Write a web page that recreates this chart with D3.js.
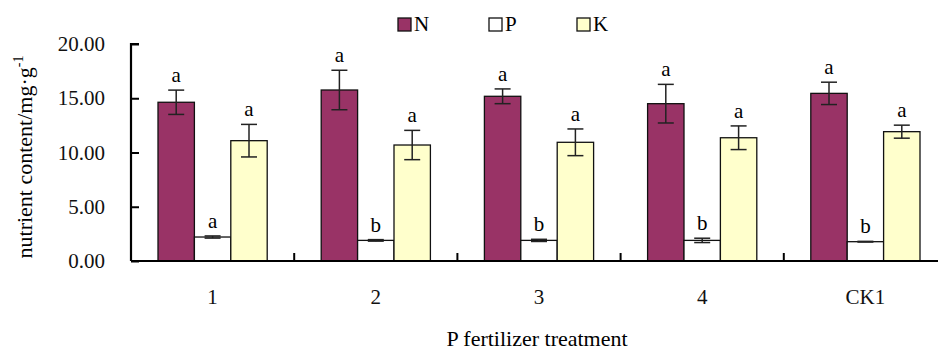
<!DOCTYPE html>
<html>
<head>
<meta charset="utf-8">
<script src="https://cdn.jsdelivr.net/npm/d3@7"></script>
<style>
  body { margin: 0; background: #fff; }
  svg { display: block; font-family: "Liberation Serif", "Times New Roman", serif; }
</style>
</head>
<body>
<svg id="chart" width="938" height="350"></svg>
<script>
const treatments = ["1", "2", "3", "4", "CK1"];
const nutrients = ["N", "P", "K"];
const nValues = [14.63, 15.76, 15.18, 14.50, 15.45];
const pValues = [2.21, 1.90, 1.90, 1.90, 1.78];
const kValues = [11.09, 10.69, 10.94, 11.36, 11.92];
const nErr = [1.12, 1.82, 0.68, 1.78, 1.03];
const pErr = [0.10, 0.07, 0.10, 0.20, 0.03];
const kErr = [1.50, 1.35, 1.23, 1.09, 0.60];
const nSig = ["a", "a", "a", "a", "a"];
const pSig = ["a", "b", "b", "b", "b"];
const kSig = ["a", "a", "a", "a", "a"];
const yTicks = [0, 5, 10, 15, 20];

const colors = { N: "#993366", P: "#ffffff", K: "#ffffcc" };

const series = {
    N: { values: nValues, err: nErr, sig: nSig },
    P: { values: pValues, err: pErr, sig: pSig },
    K: { values: kValues, err: kErr, sig: kSig }
};

const svg = d3.select("#chart");
const margin = { top: 44, left: 131, bottom: 89 };
const plotW = 816;
const plotH = 350 - margin.top - margin.bottom;

const x = d3.scaleBand()
    .domain(treatments)
    .range([margin.left, margin.left + plotW])
    .paddingInner(0).paddingOuter(0);

const xSub = d3.scaleBand()
    .domain(nutrients)
    .range([27, x.bandwidth() - 27]);

const y = d3.scaleLinear()
    .domain([0, 20])
    .range([margin.top + plotH, margin.top]);

const rows = [];
treatments.forEach((t, i) => {
    nutrients.forEach(k => {
        rows.push({ t, k, v: series[k].values[i], e: series[k].err[i], s: series[k].sig[i] });
    });
});

// bars
svg.append("g").selectAll("rect")
    .data(rows)
    .enter().append("rect")
    .attr("x", d => x(d.t) + xSub(d.k))
    .attr("y", d => y(d.v))
    .attr("width", xSub.bandwidth())
    .attr("height", d => y(0) - y(d.v))
    .attr("fill", d => colors[d.k])
    .attr("stroke", "#111")
    .attr("stroke-width", 1.3);

// error bars
const eb = svg.append("g").attr("stroke", "#222").attr("stroke-width", 1.5);
rows.forEach(d => {
    const cx = x(d.t) + xSub(d.k) + xSub.bandwidth() / 2;
    eb.append("line").attr("x1", cx).attr("x2", cx).attr("y1", y(d.v + d.e)).attr("y2", y(d.v - d.e));
    [d.v + d.e, d.v - d.e].forEach(val => {
        eb.append("line").attr("x1", cx - 8).attr("x2", cx + 8).attr("y1", y(val)).attr("y2", y(val));
    });
});

// significance letters
svg.append("g").selectAll("text")
    .data(rows)
    .enter().append("text")
    .attr("x", d => x(d.t) + xSub(d.k) + xSub.bandwidth() / 2)
    .attr("y", d => y(d.v + d.e) - 8)
    .attr("text-anchor", "middle")
    .attr("font-size", 21)
    .text(d => d.s);

// y axis
const yAxis = svg.append("g")
    .attr("transform", `translate(${margin.left},0)`)
    .call(d3.axisRight(y).tickValues(yTicks).tickSize(8).tickFormat(d3.format(".2f")))
    .attr("font-family", null).attr("font-size", null);
yAxis.select(".domain").attr("stroke-width", 2.2).attr("d", `M0,${y(0)}V${y(20)}h8`);
yAxis.selectAll(".tick line").attr("stroke-width", 2);
yAxis.selectAll(".tick text")
    .attr("x", -26).attr("text-anchor", "end")
    .attr("font-size", 21).attr("fill", "#111");

// x axis
const xAxis = svg.append("g")
    .attr("transform", `translate(0,${y(0)})`)
    .call(d3.axisBottom(x).tickSize(0).tickPadding(28))
    .attr("font-family", null).attr("font-size", null);
xAxis.select(".domain").attr("stroke-width", 2.2).attr("d", `M${margin.left},0H${margin.left + plotW}`);
xAxis.selectAll(".tick text").attr("font-size", 21).attr("fill", "#111");

// category separator ticks
svg.append("g").selectAll("line")
    .data(treatments.slice(1))
    .enter().append("line")
    .attr("x1", d => x(d)).attr("x2", d => x(d))
    .attr("y1", y(0)).attr("y2", y(0) - 8)
    .attr("stroke", "#000").attr("stroke-width", 2);

// axis titles
svg.append("text")
    .attr("x", margin.left + 2.5 * x.bandwidth() - 2)
    .attr("y", 346)
    .attr("text-anchor", "middle")
    .attr("font-size", 22)
    .text("P fertilizer treatment");

const yt = svg.append("text")
    .attr("transform", `translate(32,157) rotate(-90)`)
    .attr("text-anchor", "middle")
    .attr("font-size", 22);
yt.append("tspan").text("nutrient content/mg·g");
yt.append("tspan").attr("font-size", 14).attr("dy", -9).text("-1");

// legend
const legendX = [398, 489, 577];
const legend = svg.append("g").selectAll("g")
    .data(nutrients)
    .enter().append("g")
    .attr("transform", (d, i) => `translate(${legendX[i]},18)`);
legend.append("rect")
    .attr("width", 13).attr("height", 13)
    .attr("fill", d => colors[d])
    .attr("stroke", "#111").attr("stroke-width", 1.3);
legend.append("text")
    .attr("x", 16).attr("y", 13)
    .attr("font-size", 21)
    .text(d => d);
</script>
</body>
</html>
